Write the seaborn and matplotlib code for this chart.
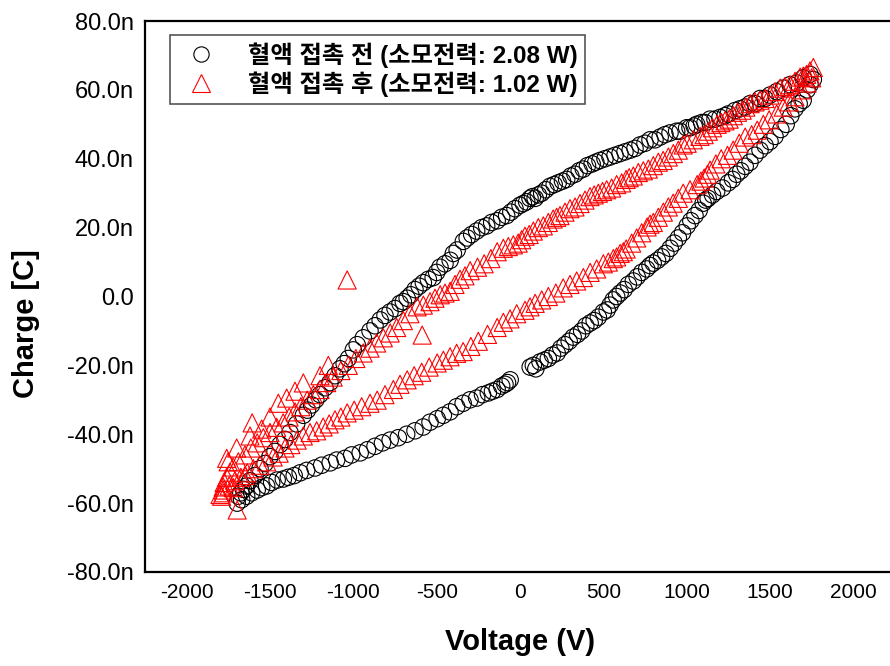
import matplotlib
matplotlib.use("Agg")
import matplotlib.pyplot as plt
import seaborn as sns
import pandas as pd
from matplotlib.ticker import FuncFormatter, MultipleLocator
from matplotlib.lines import Line2D

# === DATA (voltage in V, charge in nC) ===
# before blood contact (black circles)
before_up_v = [1740, 1700, 1660, 1620, 1580, 1540, 1500, 1470, 1441, 1411, 1380, 1350, 1320, 1290,
               1249, 1230, 1200, 1170, 1140, 1110, 1090, 1060, 1045, 1020, 1000, 960, 940, 900, 870,
               841, 810, 780, 750, 720, 690, 661, 630, 600, 570, 540, 510, 480, 455, 433, 405, 380,
               355, 330, 305, 280, 255, 229, 205, 180, 155, 130, 110, 91, 75, 60, 40, 20, 0, -30,
               -55, -80, -110, -137, -170, -200, -230, -260, -290, -317, -340, -377, -400, -419,
               -450, -480, -500, -521, -550, -580, -605, -630, -655, -677, -700, -720, -750, -780,
               -810, -839, -870, -900, -940, -977, -1000, -1030, -1055, -1080, -1110, -1140, -1170,
               -1200, -1225, -1250, -1275, -1300, -1340, -1380, -1410, -1440, -1470, -1500, -1530,
               -1560, -1590, -1620, -1640, -1660, -1675, -1690]
before_up_q = [64.5, 63.5, 62.0, 61.5, 60.5, 59.5, 58.5, 57.5, 57.5, 56.0, 56.0, 55.0, 54.5, 54.0,
               53.0, 52.5, 52.0, 51.5, 51.5, 50.5, 50.5, 50.0, 49.5, 49.0, 49.0, 48.0, 48.0, 47.5,
               47.0, 46.3, 45.5, 45.5, 44.5, 44.0, 43.0, 42.5, 42.0, 41.5, 41.0, 40.5, 40.0, 39.5,
               39.0, 38.5, 38.0, 37.0, 36.5, 35.5, 35.0, 34.0, 33.5, 33.0, 32.5, 32.0, 31.0, 30.0,
               29.5, 28.5, 29.0, 28.5, 27.5, 27.0, 26.5, 25.5, 24.5, 23.5, 23.0, 22.0, 21.5, 20.5,
               20.0, 19.0, 18.0, 17.0, 16.0, 13.5, 12.5, 10.5, 9.5, 8.5, 7.0, 5.5, 5.0, 4.0, 3.0,
               2.0, 0.5, -0.5, -1.5, -2.0, -3.5, -4.5, -5.5, -6.8, -8.5, -10.0, -12.0, -14.0,
               -15.5, -18.0, -19.5, -21.0, -23.0, -25.0, -26.5, -28.5, -30.0, -31.5, -33.0, -34.5,
               -37.0, -39.5, -41.5, -43.0, -45.0, -46.5, -48.5, -50.0, -52.0, -53.5, -55.0, -56.0,
               -57.0, -58.0]
before_low_v = [-1697, -1670, -1640, -1610, -1577, -1550, -1520, -1490, -1457, -1420, -1390, -1355,
                -1319, -1280, -1230, -1190, -1139, -1100, -1050, -1010, -959, -915, -870, -825,
                -779, -730, -680, -630, -581, -540, -497, -460, -420, -380, -341, -300, -260, -225,
                -190, -165, -137, -110, -90, -75, -59, 61, 80, 95, 120, 145, 170, 195, 223, 245,
                270, 295, 319, 345, 370, 395, 421, 445, 470, 500, 523, 540, 559, 580, 601, 625, 650,
                680, 703, 730, 760, 780, 799, 825, 850, 875, 901, 925, 950, 975, 1003, 1025, 1050,
                1075, 1099, 1115, 1129, 1155, 1180, 1215, 1249, 1275, 1300, 1325, 1351, 1380, 1410,
                1440, 1471, 1500, 1530, 1565, 1597, 1625, 1650, 1675, 1699, 1723, 1740, 1760]
before_low_q = [-60.0, -59.0, -58.0, -57.0, -56.2, -55.5, -55.0, -54.0, -53.3, -53.0, -52.5, -52.0,
                -51.2, -50.5, -49.8, -49.0, -48.3, -47.5, -47.0, -46.0, -45.4, -44.5, -43.5, -42.5,
                -41.7, -41.0, -40.0, -39.0, -37.9, -36.5, -35.5, -34.5, -33.5, -32.0, -31.0, -30.0,
                -29.5, -28.5, -28.0, -27.5, -27.0, -26.0, -25.5, -25.0, -24.2, -20.5, -20.0, -21.0,
                -19.0, -18.5, -18.0, -17.0, -16.4, -15.0, -14.0, -13.0, -11.8, -11.0, -10.0, -8.5,
                -7.7, -7.0, -6.0, -4.5, -3.9, -2.5, -1.0, 0.0, 1.0, 2.0, 3.5, 4.5, 5.7, 7.0, 8.0,
                9.0, 9.7, 10.5, 11.5, 12.5, 14.0, 15.5, 17.0, 18.5, 20.5, 22.0, 23.5, 25.0, 27.1,
                28.0, 28.5, 29.5, 30.5, 31.5, 33.0, 34.0, 35.5, 36.5, 37.8, 39.0, 41.0, 42.5, 43.8,
                45.0, 46.5, 48.5, 50.0, 52.5, 54.5, 56.0, 57.0, 60.0, 61.5, 63.0]

# after blood contact (red triangles)
after_up_v = [1760, 1740, 1720, 1700, 1681, 1650, 1620, 1590, 1561, 1530, 1500, 1470, 1440, 1410,
              1381, 1355, 1333, 1305, 1280, 1255, 1230, 1205, 1183, 1155, 1130, 1105, 1080, 1040,
              1003, 979, 950, 920, 890, 859, 830, 800, 770, 740, 710, 680, 655, 637, 610, 580, 550,
              520, 495, 470, 445, 420, 390, 360, 330, 300, 270, 240, 220, 199, 170, 140, 110, 80,
              55, 30, 10, -11, -40, -70, -100, -137, -175, -215, -255, -299, -330, -360, -390,
              -419, -450, -479, -510, -540, -580, -617, -660, -700, -740, -779, -820, -860, -900,
              -941, -985, -1030, -1075, -1121, -1160, -1200, -1240, -1277, -1315, -1350, -1385,
              -1421, -1460, -1500, -1540, -1577, -1615, -1650, -1690, -1721, -1740, -1760, -1775,
              -1781]
after_up_q = [66.5, 65.5, 64.5, 64.0, 63.7, 62.5, 61.5, 61.0, 60.5, 59.5, 58.5, 57.5, 57.0, 56.5,
              56.0, 55.0, 54.1, 53.5, 52.5, 51.5, 51.0, 50.5, 50.0, 49.0, 48.0, 47.0, 46.5, 45.5,
              44.5, 44.0, 42.5, 41.5, 40.5, 39.5, 39.0, 38.0, 37.0, 36.5, 36.0, 35.0, 34.5, 34.0,
              33.0, 32.5, 31.5, 31.0, 30.5, 30.0, 29.5, 29.0, 28.0, 27.0, 26.0, 25.5, 24.5, 23.5,
              23.0, 22.5, 21.5, 20.5, 20.0, 19.0, 18.0, 17.5, 16.5, 15.5, 15.0, 14.5, 14.0, 13.0,
              11.0, 9.5, 8.5, 7.5, 6.0, 5.0, 3.5, 1.5, 1.0, 0.5, -0.5, -1.5, -2.5, -3.0, -5.0,
              -7.0, -9.0, -10.6, -12.0, -13.5, -15.0, -16.4, -18.0, -20.0, -21.5, -23.4, -25.0,
              -27.0, -28.5, -30.1, -32.0, -33.5, -35.0, -36.7, -38.0, -39.5, -41.0, -42.5, -44.0,
              -46.0, -48.0, -49.5, -51.0, -52.5, -54.0, -55.3]
after_low_v = [-1800, -1790, -1781, -1745, -1710, -1675, -1637, -1600, -1560, -1520, -1481, -1445,
               -1410, -1375, -1337, -1300, -1260, -1220, -1181, -1145, -1110, -1075, -1037, -995,
               -950, -900, -857, -810, -760, -720, -677, -635, -590, -545, -497, -460, -420, -380,
               -341, -295, -250, -195, -137, -100, -60, -20, 30, 60, 91, 130, 170, 215, 259, 300,
               340, 380, 421, 460, 500, 530, 560, 580, 601, 620, 637, 670, 700, 730, 763, 780, 800,
               830, 860, 890, 919, 950, 979, 1020, 1063, 1085, 1105, 1125, 1141, 1175, 1207, 1245,
               1279, 1315, 1351, 1390, 1423, 1460, 1495, 1540, 1579, 1615, 1650, 1690, 1723, 1750]
after_low_q = [-57.5, -58.0, -56.2, -55.0, -53.5, -52.5, -51.2, -50.0, -49.0, -48.0, -46.6, -45.5,
               -44.0, -43.0, -41.7, -40.5, -39.5, -39.0, -37.9, -37.0, -35.8, -35.0, -33.8, -33.0,
               -32.0, -31.0, -30.1, -28.5, -27.0, -25.5, -24.2, -23.0, -22.0, -20.5, -19.3, -18.5,
               -17.5, -16.5, -16.0, -14.5, -13.0, -11.0, -9.0, -7.5, -6.5, -5.0, -4.0, -3.0, -2.0,
               -1.0, 0.0, 1.0, 2.5, 3.5, 4.5, 5.5, 7.0, 8.0, 9.5, 10.0, 11.0, 11.5, 12.5, 13.0, 13.8,
               15.5, 17.0, 18.5, 20.2, 21.0, 21.5, 23.0, 24.5, 26.0, 27.1, 28.5, 30.0, 31.0, 32.5,
               33.5, 34.4, 35.5, 36.7, 38.5, 40.0, 41.0, 42.5, 44.5, 46.3, 47.0, 48.3, 50.0, 51.3,
               53.0, 55.0, 56.5, 58.0, 60.0, 62.0, 63.5]
after_stray_v = [-1037, -587, -1300, -1607, -1751, -1697, -1500, -1450, -1400, -1350, -1550, -1620,
                 -1700, -1760, -1200, -1150, -1650, -1720, -1780]
after_stray_q = [4.8, -11.2, -25.1, -36.7, -48.0, -62.0, -35.0, -31.0, -29.5, -27.5, -38.5, -40.5,
                 -44.0, -47.0, -23.0, -20.0, -52.0, -55.5, -57.0]

label_before = "혈액 접촉 전 (소모전력: 2.08 W)"
label_after = "혈액 접촉 후 (소모전력: 1.02 W)"

df_before = pd.DataFrame({"voltage": before_up_v + before_low_v,
                          "charge": before_up_q + before_low_q})
df_after = pd.DataFrame({"voltage": after_up_v + after_low_v + after_stray_v,
                         "charge": after_up_q + after_low_q + after_stray_q})

# === PLOTTING ===
sns.set_theme(style="white")
plt.rcParams['font.family'] = ['Liberation Sans', 'Noto Sans CJK KR']
plt.rcParams['axes.unicode_minus'] = False
plt.rcParams['text.color'] = 'black'
plt.rcParams['axes.labelcolor'] = 'black'

fig = plt.figure(figsize=(8.9, 6.66), dpi=100)
ax = fig.add_axes([145 / 890, 1 - 572 / 666, 750 / 890, 551 / 666])

sns.scatterplot(data=df_before, x="voltage", y="charge", marker="o", s=140,
                facecolor="none", edgecolor="black", linewidth=0.8, ax=ax, legend=False)
sns.scatterplot(data=df_after, x="voltage", y="charge", marker="^", s=170,
                facecolor="none", edgecolor="red", linewidth=0.8, ax=ax, legend=False)

ax.set_xlim(-2250, 2250)
ax.set_ylim(-80, 80)
ax.xaxis.set_major_locator(MultipleLocator(500))
ax.yaxis.set_major_locator(MultipleLocator(20))
ax.yaxis.set_major_formatter(FuncFormatter(lambda v, _: "0.0" if abs(v) < 1e-9 else f"{v:.1f}n"))
ax.tick_params(direction="in", length=6, width=1.5, colors="black")
ax.tick_params(axis="x", labelsize=15, pad=8)
ax.tick_params(axis="y", labelsize=17, pad=8)
for sp in ax.spines.values():
    sp.set_linewidth(1.6)
    sp.set_color("black")

ax.set_xlabel("Voltage (V)", fontsize=21, fontweight="bold")
ax.set_ylabel("Charge [C]", fontsize=21, fontweight="bold")
ax.xaxis.set_label_coords(0.5, -0.102)
ax.yaxis.set_label_coords(-0.14, 0.45)

handles = [
    Line2D([], [], ls="none", marker="o", ms=11, mfc="none", mec="black", mew=0.8),
    Line2D([], [], ls="none", marker="^", ms=13, mfc="none", mec="red", mew=0.8),
]
leg = ax.legend(handles, [label_before, label_after], loc="upper left",
                bbox_to_anchor=(0.033, 0.975), borderaxespad=0, frameon=True,
                fancybox=False, framealpha=1, edgecolor="#555555",
                prop={"size": 17.5, "weight": "bold"}, handletextpad=0.9,
                labelspacing=0.15, borderpad=0.3)
leg.get_frame().set_linewidth(1.2)

plt.savefig("out.png", dpi=100)
